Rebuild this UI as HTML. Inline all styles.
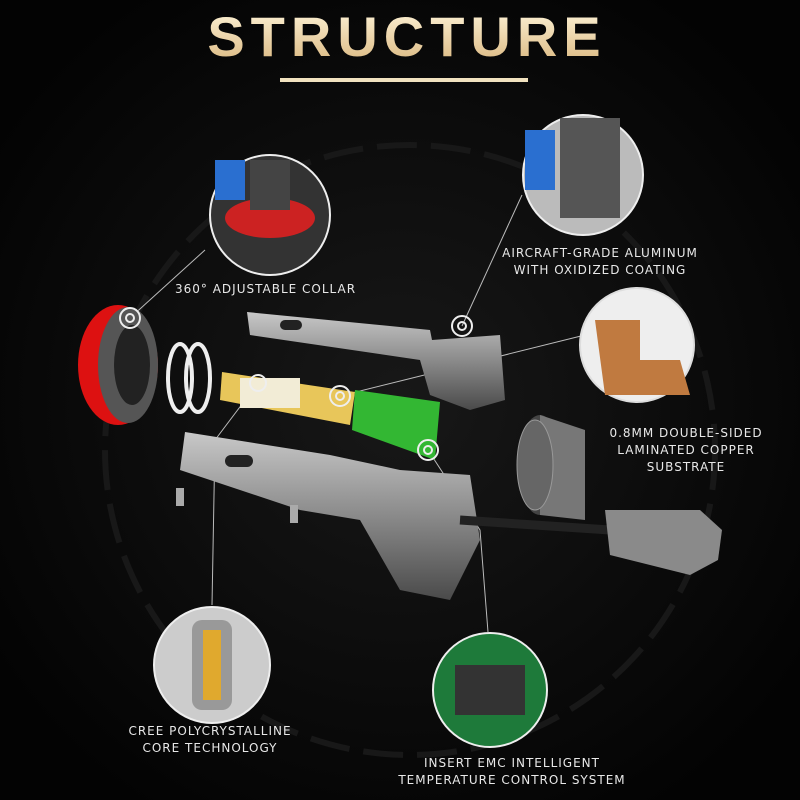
<!DOCTYPE html>
<html><head><style>
body{margin:0;background:#000;}
svg{display:block}
.l{font-family:"DejaVu Sans","Liberation Sans",sans-serif;font-size:12px;fill:#e8e8e8;letter-spacing:1px}
</style></head><body>
<svg width="800" height="800" viewBox="0 0 800 800" xmlns="http://www.w3.org/2000/svg">
<defs>
<linearGradient id="g" x1="0" y1="0" x2="0" y2="1"><stop offset="0" stop-color="#fff6dc"/><stop offset="1" stop-color="#d9b57c"/></linearGradient>
<radialGradient id="bg" cx="0.5" cy="0.5" r="0.6"><stop offset="0" stop-color="#181818"/><stop offset="1" stop-color="#030303"/></radialGradient>
<linearGradient id="m" x1="0" y1="0" x2="0" y2="1"><stop offset="0" stop-color="#c8c8c8"/><stop offset="0.5" stop-color="#8a8a8a"/><stop offset="1" stop-color="#4a4a4a"/></linearGradient>
</defs>
<rect width="800" height="800" fill="url(#bg)"/>
<circle cx="410" cy="450" r="305" fill="none" stroke="#181818" stroke-width="6" stroke-dasharray="40 14"/>
<text x="407" y="56" text-anchor="middle" font-family="Liberation Sans,sans-serif" font-weight="bold" font-size="56" letter-spacing="6" fill="url(#g)">STRUCTURE</text>
<rect x="280" y="78" width="248" height="4" fill="#f1e2bf"/>

<g stroke="#bbb" stroke-width="1" fill="none">
<line x1="130" y1="318" x2="205" y2="250"/>
<line x1="462" y1="326" x2="522" y2="195"/>
<line x1="340" y1="396" x2="585" y2="335"/>
<polyline points="258,383 215,440 212,605"/>
<polyline points="428,450 480,530 488,632"/>
</g>

<ellipse cx="118" cy="365" rx="40" ry="60" fill="#d11" />
<ellipse cx="128" cy="365" rx="30" ry="58" fill="#555"/>
<ellipse cx="132" cy="365" rx="18" ry="40" fill="#222"/>
<ellipse cx="180" cy="378" rx="12" ry="34" fill="none" stroke="#eee" stroke-width="4"/>
<ellipse cx="198" cy="378" rx="12" ry="34" fill="none" stroke="#eee" stroke-width="4"/>

<polygon points="247,312 430,330 432,340 500,335 505,400 470,410 430,395 420,360 250,335" fill="url(#m)"/>
<rect x="280" y="320" width="22" height="10" rx="5" fill="#222"/>
<polygon points="222,372 355,392 350,425 220,400" fill="#e8c65a"/>
<rect x="240" y="378" width="60" height="30" fill="#f2ecd6"/>
<polygon points="355,390 440,402 435,460 352,430" fill="#33b733"/>
<polygon points="185,432 330,455 400,470 470,475 480,540 450,600 400,590 360,520 300,510 180,470" fill="url(#m)"/>
<rect x="225" y="455" width="28" height="12" rx="6" fill="#222"/>
<ellipse cx="540" cy="465" rx="22" ry="50" fill="#444"/>
<path d="M540 415 L585 430 L585 520 L540 515 Z" fill="#777"/>
<ellipse cx="535" cy="465" rx="18" ry="45" fill="#666" stroke="#999"/>
<path d="M460 520 L610 530" stroke="#222" stroke-width="9"/>
<polygon points="605,510 700,510 722,530 718,560 690,575 610,555" fill="#8a8a8a"/>
<rect x="176" y="488" width="8" height="18" fill="#aaa"/><rect x="290" y="505" width="8" height="18" fill="#aaa"/>

<g fill="none" stroke="#eee" stroke-width="2">
<circle cx="130" cy="318" r="10"/><circle cx="130" cy="318" r="4"/>
<circle cx="462" cy="326" r="10"/><circle cx="462" cy="326" r="4"/>
<circle cx="340" cy="396" r="10"/><circle cx="340" cy="396" r="4"/>
<circle cx="428" cy="450" r="10"/><circle cx="428" cy="450" r="4"/>
<circle cx="258" cy="383" r="8"/>
</g>

<circle cx="270" cy="215" r="60" fill="#333" stroke="#eee" stroke-width="2"/>
<ellipse cx="270" cy="218" rx="45" ry="20" fill="#c22"/>
<rect x="250" y="160" width="40" height="50" fill="#444"/>
<rect x="215" y="160" width="30" height="40" fill="#2a6fd0"/>
<circle cx="583" cy="175" r="60" fill="#bbb" stroke="#eee" stroke-width="2"/>
<rect x="560" y="118" width="60" height="100" fill="#555"/>
<rect x="525" y="130" width="30" height="60" fill="#2a6fd0"/>
<circle cx="637" cy="345" r="57" fill="#eee" stroke="#ddd" stroke-width="2"/>
<polygon points="595,320 640,320 640,360 680,360 690,395 605,395" fill="#c07a40"/>
<circle cx="212" cy="665" r="58" fill="#ccc" stroke="#eee" stroke-width="2"/>
<rect x="192" y="620" width="40" height="90" rx="10" fill="#999"/>
<rect x="203" y="630" width="18" height="70" fill="#e0a92e"/>
<circle cx="490" cy="690" r="57" fill="#1e7a3a" stroke="#eee" stroke-width="2"/>
<rect x="455" y="665" width="70" height="50" fill="#333"/>

<text class="l" x="175" y="293">360° ADJUSTABLE COLLAR</text>
<text class="l" x="600" y="257" text-anchor="middle">AIRCRAFT-GRADE ALUMINUM</text>
<text class="l" x="600" y="274" text-anchor="middle">WITH OXIDIZED COATING</text>
<text class="l" x="686" y="437" text-anchor="middle">0.8MM DOUBLE-SIDED</text>
<text class="l" x="686" y="454" text-anchor="middle">LAMINATED COPPER</text>
<text class="l" x="686" y="471" text-anchor="middle">SUBSTRATE</text>
<text class="l" x="210" y="735" text-anchor="middle">CREE POLYCRYSTALLINE</text>
<text class="l" x="210" y="752" text-anchor="middle">CORE TECHNOLOGY</text>
<text class="l" x="512" y="767" text-anchor="middle">INSERT EMC INTELLIGENT</text>
<text class="l" x="512" y="784" text-anchor="middle">TEMPERATURE CONTROL SYSTEM</text>
</svg>
</body></html>
